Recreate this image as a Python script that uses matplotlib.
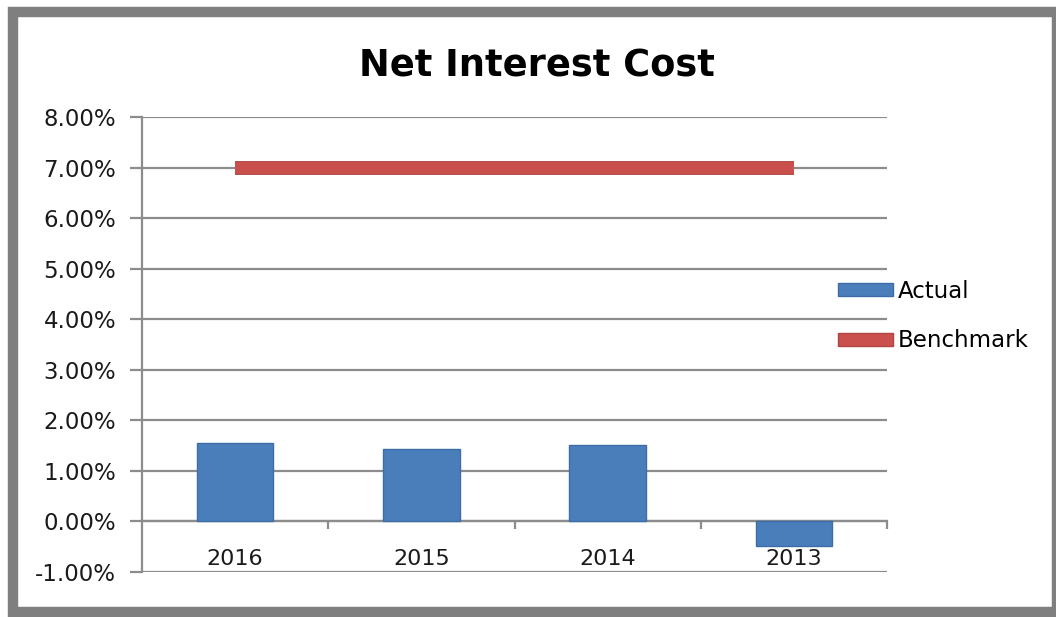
import matplotlib
matplotlib.use("Agg")
import matplotlib.pyplot as plt
import matplotlib.patheffects as pe
from matplotlib.patches import Patch, Rectangle
from matplotlib.ticker import FixedLocator

years = ["2016", "2015", "2014", "2013"]
actual = [1.55, 1.43, 1.52, -0.48]
benchmark = [7.00, 7.00, 7.00, 7.00]
y_ticks = [-1, 0, 1, 2, 3, 4, 5, 6, 7, 8]

BLUE = "#4a7ebb"
RED = "#c9504d"
GRID = "#8c8c8c"

plt.rcParams["font.family"] = ["DejaVu Sans"]

fig = plt.figure(figsize=(10.56, 6.17), dpi=100)
ax = fig.add_axes([142 / 1056, 1 - 572 / 617, (887 - 142) / 1056, (572 - 117) / 617])

x = list(range(len(years)))
ax.bar(x, actual, width=0.41, color=BLUE, edgecolor="#3d6da6", linewidth=1, zorder=3)
ax.plot(x, benchmark, color=RED, linewidth=8.5, solid_capstyle="butt", zorder=4,
        path_effects=[pe.Stroke(linewidth=10, foreground="#b04542"), pe.Normal()])

ax.set_xlim(-0.5, len(years) - 0.5)
ax.set_ylim(-1, 8)
ax.set_yticks(y_ticks)
ax.set_yticklabels([f"{v:.2f}%" for v in y_ticks])
ax.yaxis.grid(True, color=GRID, linewidth=1.6, zorder=1)
ax.set_axisbelow(True)

ax.set_xticks(x)
ax.set_xticklabels(years)
ax.xaxis.set_minor_locator(FixedLocator([i + 0.5 for i in x]))

for side in ("top", "right"):
    ax.spines[side].set_visible(False)
ax.spines["left"].set_color(GRID)
ax.spines["left"].set_linewidth(1.6)
ax.spines["bottom"].set_position(("data", 0))
ax.spines["bottom"].set_color(GRID)
ax.spines["bottom"].set_linewidth(1.6)

ax.tick_params(axis="y", length=8.5, width=1.6, color=GRID, pad=10, labelsize=16.5, labelcolor="#1a1a1a")
ax.tick_params(axis="x", which="major", length=0, pad=20, labelsize=16, labelcolor="#1a1a1a")
ax.tick_params(axis="x", which="minor", length=6, width=1.6, color=GRID, direction="out")

fig.text(537 / 1056, 1 - 66 / 617, "Net Interest Cost", ha="center", va="center",
         fontsize=26.5, fontweight="bold", color="black")

handles = [Patch(facecolor=BLUE, edgecolor="#3d6da6"), Patch(facecolor=RED, edgecolor="#b04542")]
fig.legend(handles, ["Actual", "Benchmark"], loc="center left",
           bbox_to_anchor=(838 / 1056, 1 - 316 / 617), frameon=False, fontsize=16.5,
           handlelength=2.4, handleheight=0.5, handletextpad=0.22, labelspacing=1.15,
           borderpad=0, borderaxespad=0)

# outer chart frame, right edge runs off the figure
fig.patches.append(Rectangle((12.5 / 1056, 1 - 612 / 617), (1057 - 12.5) / 1056, (612 - 12) / 617,
                             transform=fig.transFigure, fill=False, edgecolor="#7f7f7f",
                             linewidth=7.5))

fig.savefig("out.png", dpi=100)
